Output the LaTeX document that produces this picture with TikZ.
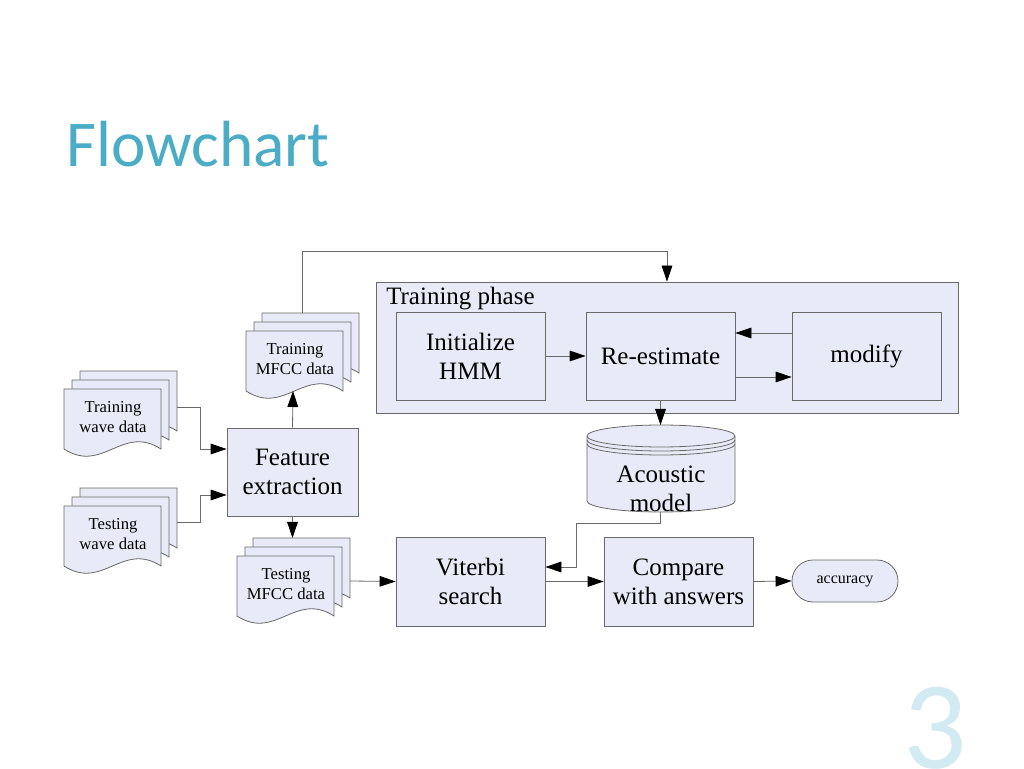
\documentclass[tikz,border=0pt]{standalone}
\usepackage{fontspec}
\setmainfont{Liberation Serif}
\newfontfamily\titlefont{Carlito}
\usetikzlibrary{arrows.meta, calc, positioning}

\definecolor{boxfill}{RGB}{232,235,247}
\definecolor{linegray}{RGB}{105,105,105}
\definecolor{titleblue}{RGB}{75,172,198}
\definecolor{pagecyan}{RGB}{210,234,241}

% one sheet of a document stack, #1/#2 = top left corner
\newcommand{\docsheet}[2]{%
\draw[sheet] (#1,#2) -- (#1+97,#2) -- (#1+97,#2-60)
  .. controls +(-39,25) and +(39,-25) .. (#1,#2-60) -- cycle;}
% three sheets, front one at #1/#2
\newcommand{\docstack}[2]{%
\docsheet{#1+16}{#2+18}
\docsheet{#1+8}{#2+9}
\docsheet{#1}{#2}}

\begin{document}
\begin{tikzpicture}[x=0.75pt, y=0.75pt,
  box/.style={draw=linegray, fill=boxfill, line width=0.6pt, inner sep=0pt, align=center, font=\fontsize{18.75}{21.75}\selectfont},
  bigbox/.style={box, minimum width=111.75pt, minimum height=66pt},
  doctext/.style={align=center, inner sep=0pt, font=\fontsize{12.5}{14.5}\selectfont},
  sheet/.style={draw=linegray, fill=boxfill, line width=0.6pt},
  flow/.style={draw=linegray, line width=0.6pt, -{Triangle[length=12pt,width=8pt,color=black]}}]

\fill[white] (0,0) rectangle (1024,768);
\useasboundingbox (0,0) rectangle (1024,768);

%//title and page number
\node[anchor=base west, inner sep=0pt, text=titleblue, font=\titlefont\fontsize{49}{49}\selectfont] (title) at (66,601) {Flowchart};
\node[anchor=base west, inner sep=0pt, text=pagecyan, font=\titlefont\fontsize{94}{94}\selectfont] (pagenum) at (903,0) {3};

%//document stacks
\docstack{64}{379}
\node[doctext] (trainwave) at (113,351) {Training\\wave data};
\coordinate (trainwaveout) at (177,361);

\docstack{64}{262}
\node[doctext] (testwave) at (113,234) {Testing\\wave data};
\coordinate (testwaveout) at (177,246);

\docstack{246}{437}
\node[doctext] (trainmfcc) at (295,409) {Training\\MFCC data};
\coordinate (trainmfccin) at (293,377);
\coordinate (trainmfccout) at (302,455);

\docstack{237}{212}
\node[doctext] (testmfcc) at (286,184) {Testing\\MFCC data};
\coordinate (testmfccin) at (292.5,230);
\coordinate (testmfccout) at (350,187);

%//boxes
\node[box, minimum width=98.25pt, minimum height=66pt] (feat) at (292.5,296) {Feature\\extraction};

\node[box, minimum width=436.5pt, minimum height=98.25pt] (phase) at (667,420.5) {};
\node[anchor=base west, inner sep=0pt, font=\fontsize{18.75}{21.75}\selectfont] (phaselabel) at (386,463) {Training phase};
\node[bigbox] (init) at (470.5,412) {Initialize\\HMM};
\node[bigbox] (reest) at (660.5,412) {Re-estimate};
\node[bigbox] (modify) at (866.5,412) {modify};

\node[bigbox, minimum height=66.75pt] (viterbi) at (470.5,186.5) {Viterbi\\search};
\node[bigbox, minimum height=66.75pt] (compare) at (678.5,186.5) {Compare\\with answers};
\node[box, minimum width=79.5pt, minimum height=31.5pt, rounded corners=15.75pt, font=\fontsize{12}{14.5}\selectfont] (accuracy) at (845,187) {accuracy};

%//acoustic model cylinder
\draw[sheet] (587,332) -- (587,267) arc[start angle=180, end angle=360, x radius=74, y radius=11]
  -- (735,332) arc[start angle=0, end angle=180, x radius=74, y radius=11] -- cycle;
\foreach \y in {332,328,324}
\draw[linegray, line width=0.6pt] (587,\y) arc[start angle=180, end angle=360, x radius=74, y radius=11];
\node[align=center, inner sep=0pt, font=\fontsize{18.75}{21.75}\selectfont] (acoustic) at (661,279) {Acoustic\\model};
\coordinate (acoustictop) at (660.5,343);
\coordinate (acousticbot) at (660.5,256);

%//connectors
\draw[flow] (trainwaveout) -| (200.5,319) -- ($(feat.west)+(0,23)$);
\draw[flow] (testwaveout) -| (200.5,273) -- ($(feat.west)+(0,-23)$);
\draw[flow] (feat.north) -- (trainmfccin);
\draw[flow] (feat.south) -- (testmfccin);
\draw[flow] (trainmfccout) -- (302,517) -| (phase.north);
\draw[flow] (testmfccout) -- (viterbi.west);
\draw[flow] (init.east) -- (reest.west);
\draw[flow] ($(modify.west)+(0,23)$) -- ($(reest.east)+(0,23)$);
\draw[flow] ($(reest.east)+(0,-21)$) -- ($(modify.west)+(0,-21)$);
\draw[flow] (reest.south) -- (acoustictop);
\draw[flow] (acousticbot) -- (660.5,245) -| (576,201) -- ($(viterbi.east)+(0,14.5)$);
\draw[flow] (viterbi.east) -- (compare.west);
\draw[flow] (compare.east) -- (accuracy.west);
\end{tikzpicture}
\end{document}
